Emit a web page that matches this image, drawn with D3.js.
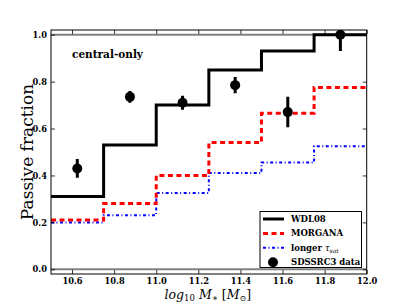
<!DOCTYPE html>
<html><head><meta charset="utf-8">
<script src="https://cdn.jsdelivr.net/npm/d3@7"></script>
<style>body{margin:0;background:#fff}svg{display:block}</style>
</head><body>
<svg id="c" width="407" height="305"></svg>
<script>
const binEdges = [10.5, 10.75, 11.0, 11.25, 11.5, 11.75, 12.0];
const wdl08 = [0.31, 0.53, 0.70, 0.85, 0.93, 1.0];
const morgana = [0.21, 0.28, 0.40, 0.54, 0.665, 0.775];
const longerTau = [0.20, 0.23, 0.325, 0.41, 0.455, 0.525];
const dataX = [10.625, 10.875, 11.125, 11.375, 11.625, 11.875];
const dataY = [0.43, 0.735, 0.71, 0.785, 0.67, 1.0];
const dataErr = [0.04, 0.025, 0.03, 0.035, 0.065, 0.07];
const xTicks = [10.6, 10.8, 11.0, 11.2, 11.4, 11.6, 11.8, 12.0];
const yTicks = [0.0, 0.2, 0.4, 0.6, 0.8, 1.0];

const L = 51, R = 366.7, T = 30, B = 274;
const svg = d3.select("#c");
const x = d3.scaleLinear().domain([10.5, 12.0]).range([L, R]);
const y = d3.scaleLinear().domain([-0.02, 1.02]).range([B, T]);
const font = "'DejaVu Serif', 'Liberation Serif', serif";

const g = svg.append("g");
[0, 1].forEach(v => g.append("line").attr("x1", L).attr("x2", R).attr("y1", y(v)).attr("y2", y(v))
  .attr("stroke", "#808080").attr("stroke-width", 2));

function stepPts(vals) {
  const pts = [];
  vals.forEach((v, i) => { pts.push([binEdges[i], v]); pts.push([binEdges[i + 1], v]); });
  return pts;
}
const line = d3.line().x(d => x(d[0])).y(d => y(d[1]));
svg.append("clipPath").attr("id", "cp").append("rect").attr("x", L).attr("y", T).attr("width", R - L).attr("height", B - T);
const plot = svg.append("g").attr("clip-path", "url(#cp)");
plot.append("path").attr("d", line(stepPts(longerTau))).attr("fill", "none").attr("stroke", "#0000ff")
  .attr("stroke-width", 2).attr("stroke-dasharray", "3,2.5,1,2.5");
plot.append("path").attr("d", line(stepPts(morgana))).attr("fill", "none").attr("stroke", "#ff0000")
  .attr("stroke-width", 3).attr("stroke-dasharray", "5,3.5");
plot.append("path").attr("d", line(stepPts(wdl08))).attr("fill", "none").attr("stroke", "#000")
  .attr("stroke-width", 3);
dataX.forEach((dx, i) => {
  plot.append("line").attr("x1", x(dx)).attr("x2", x(dx)).attr("y1", y(dataY[i] - dataErr[i])).attr("y2", y(dataY[i] + dataErr[i]))
    .attr("stroke", "#000").attr("stroke-width", 3);
  plot.append("circle").attr("cx", x(dx)).attr("cy", y(dataY[i])).attr("r", 5).attr("fill", "#000");
});

const xa = d3.axisBottom(x).tickValues(xTicks).tickSize(-4).tickPadding(4).tickFormat(d3.format(".1f"));
const xt = d3.axisTop(x).tickValues(xTicks).tickSize(-4).tickFormat("");
const ya = d3.axisLeft(y).tickValues(yTicks).tickSize(-4).tickPadding(4).tickFormat(d3.format(".1f"));
const yr = d3.axisRight(y).tickValues(yTicks).tickSize(-4).tickFormat("");
function style(sel) {
  sel.select(".domain").remove();
  sel.selectAll("line").attr("stroke", "#000").attr("stroke-width", 0.8);
  sel.selectAll("text").attr("font-family", font).attr("font-weight", "bold").attr("font-size", 8.3).attr("fill", "#000");
}
svg.append("g").attr("transform", `translate(0,${B})`).call(xa).call(style);
svg.append("g").attr("transform", `translate(0,${T})`).call(xt).call(style);
svg.append("g").attr("transform", `translate(${L},0)`).call(ya).call(style);
svg.append("g").attr("transform", `translate(${R},0)`).call(yr).call(style);
svg.append("rect").attr("x", L).attr("y", T).attr("width", R - L).attr("height", B - T)
  .attr("fill", "none").attr("stroke", "#000").attr("stroke-width", 1);

svg.append("text").attr("transform", `translate(33,${(T + B) / 2}) rotate(-90)`).attr("text-anchor", "middle")
  .attr("font-family", font).attr("font-size", 17).attr("fill", "#000").text("Passive fraction");

const xl = svg.append("text").attr("x", (L + R) / 2 - 1).attr("y", 298.5).attr("text-anchor", "middle")
  .attr("font-family", font).attr("font-size", 12.5).attr("fill", "#000");
xl.append("tspan").attr("font-style", "italic").text("log");
xl.append("tspan").attr("font-size", 8.5).attr("dy", 2.5).text("10");
xl.append("tspan").attr("font-style", "italic").attr("dy", -2.5).attr("dx", 4).text("M");
xl.append("tspan").attr("font-size", 9).attr("dy", 2.5).text("∗");
xl.append("tspan").attr("dy", -2.5).attr("dx", 4).text("[");
xl.append("tspan").attr("font-style", "italic").text("M");
xl.append("tspan").attr("font-size", 8).attr("dy", 2.5).text("⊙");
xl.append("tspan").attr("dy", -2.5).text("]");

svg.append("text").attr("x", 72).attr("y", 58).attr("font-family", font).attr("font-weight", "bold")
  .attr("font-size", 10.5).attr("fill", "#000").text("central-only");

const lg = svg.append("g");
lg.append("rect").attr("x", 260).attr("y", 211.5).attr("width", 101.5).attr("height", 56)
  .attr("fill", "#fff").attr("stroke", "#000").attr("stroke-width", 1);
const items = [
  {label: "WDL08", color: "#000", w: 3, dash: null},
  {label: "MORGANA", color: "#ff0000", w: 3, dash: "5,3.5"},
  {label: "longer τ", color: "#0000ff", w: 2, dash: "3,2.5,1,2.5", sub: "sat"},
  {label: "SDSSRC3 data", dot: true}
];
items.forEach((it, i) => {
  const yy = 219 + i * 14.4;
  if (it.dot) {
    lg.append("circle").attr("cx", 273).attr("cy", yy).attr("r", 5).attr("fill", "#000");
  } else {
    lg.append("line").attr("x1", 263).attr("x2", 284).attr("y1", yy).attr("y2", yy).attr("stroke", it.color)
      .attr("stroke-width", it.w).attr("stroke-dasharray", it.dash);
  }
  const t = lg.append("text").attr("x", 291).attr("y", yy + 3).attr("font-family", font).attr("font-weight", "bold")
    .attr("font-size", 8.5).attr("fill", "#000");
  if (it.sub) {
    t.append("tspan").text("longer ");
    t.append("tspan").attr("font-style", "italic").attr("font-weight", "normal").text("τ");
    t.append("tspan").attr("font-style", "italic").attr("font-size", 6).attr("dy", 2).attr("font-weight", "normal").text(it.sub);
  } else t.text(it.label);
});
</script>
</body></html>
